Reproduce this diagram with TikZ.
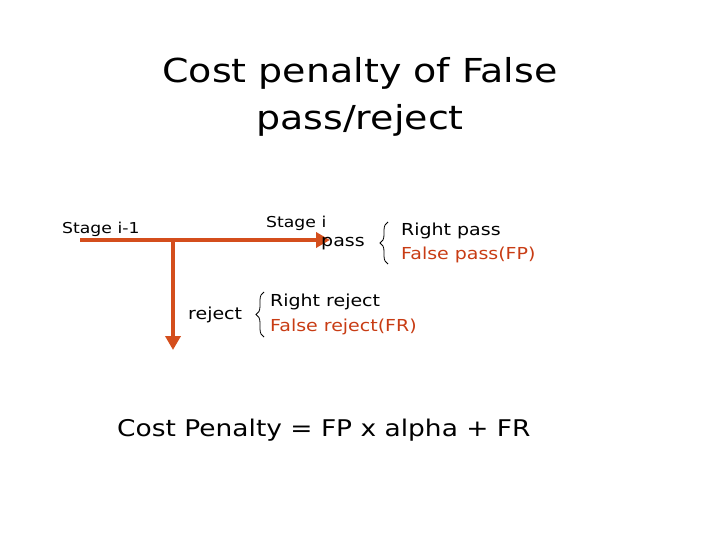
\documentclass[tikz,border=0pt]{standalone}
\usepackage{fontspec}
\setmainfont{DejaVu Sans}[FakeStretch=1.15]
\usetikzlibrary{decorations.pathreplacing,arrows.meta}
\definecolor{arr}{RGB}{212,78,28}
\definecolor{redt}{RGB}{200,60,20}
\begin{document}
\begin{tikzpicture}[x=1pt,y=-1pt,
  lbl/.style={inner sep=0pt,anchor=west},
  flow/.style={draw=arr,line width=3.5pt,-{Triangle[length=14pt,width=15pt]}},
  br/.style={decorate,decoration={brace,amplitude=8pt},line width=0.8pt}]
\useasboundingbox (0,0) rectangle (720,540);
\node[align=center,font=\fontsize{33}{47}\selectfont,inner sep=0pt] (title) at (360,97) {Cost penalty of False\\pass/reject};
\node[lbl,font=\fontsize{15}{18}\selectfont] (s1) at (62,229) {Stage i-1};
\node[lbl,font=\fontsize{15}{18}\selectfont] (s2) at (266,223) {Stage i};
\coordinate (h0) at (80,240);
\coordinate (h1) at (330,240);
\coordinate (v0) at (173,240);
\coordinate (v1) at (173,350);
\draw[flow] (h0) -- (h1);
\draw[flow] (v0) -- (v1);
\node[lbl,font=\fontsize{16.5}{20}\selectfont] (pass) at (321,244) {pass};
\draw[br] (388,264) -- (388,222);
\node[lbl,font=\fontsize{16.5}{20}\selectfont] (rp) at (401,231) {Right pass};
\node[lbl,font=\fontsize{16.5}{20}\selectfont,text=redt] (fp) at (401,255) {False pass(FP)};
\node[lbl,font=\fontsize{16.5}{20}\selectfont] (rej) at (188,315) {reject};
\draw[br] (264,337) -- (264,292);
\node[lbl,font=\fontsize{16.5}{20}\selectfont] (rr) at (270,302) {Right reject};
\node[lbl,font=\fontsize{16.5}{20}\selectfont,text=redt] (fr) at (270,327) {False reject(FR)};
\node[lbl,font=\fontsize{23}{30}\selectfont] (cp) at (117,430) {Cost Penalty = FP x alpha + FR};
\end{tikzpicture}
\end{document}
